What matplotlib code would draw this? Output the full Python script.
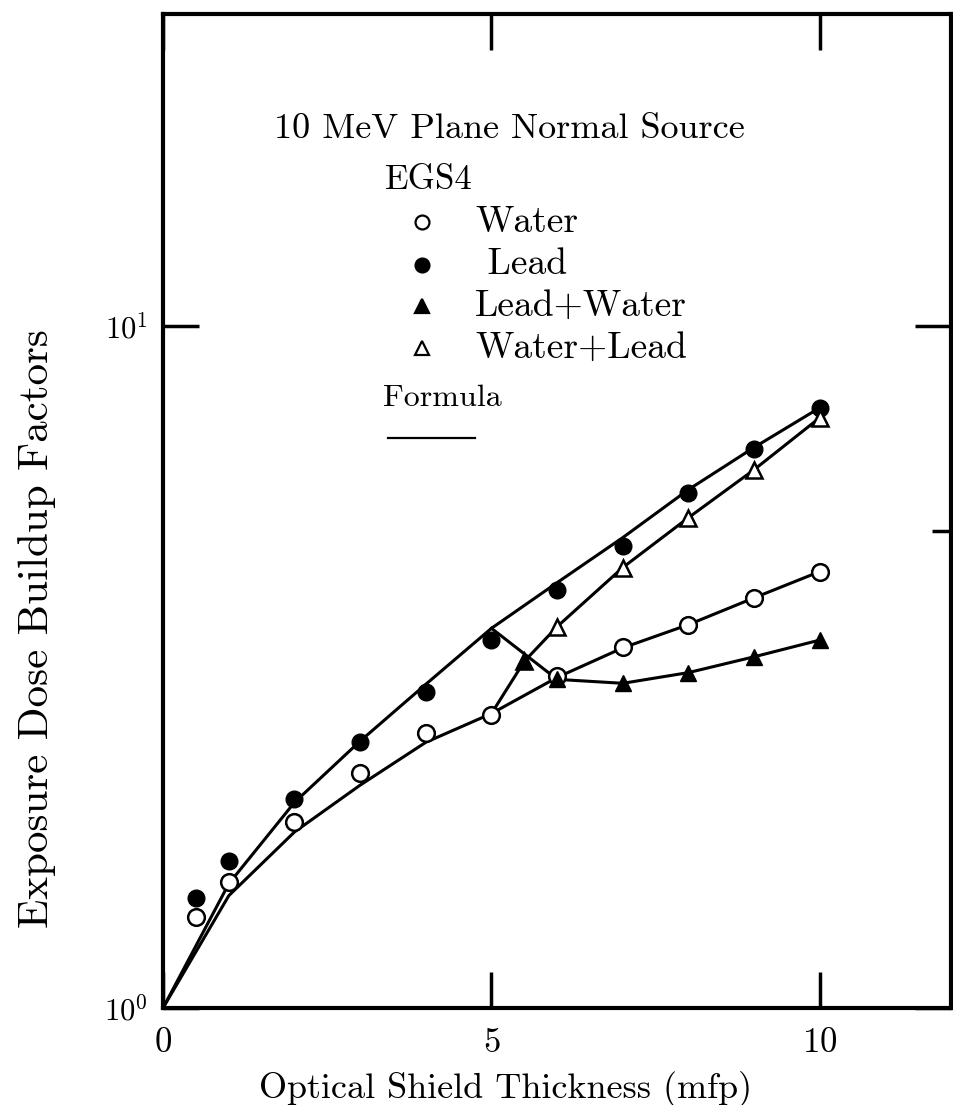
import numpy as np
import matplotlib
matplotlib.use('Agg')
import matplotlib.pyplot as plt
from matplotlib.ticker import FixedLocator, NullFormatter

plt.rcParams['font.family'] = ['cmr10', 'DejaVu Serif']
plt.rcParams['mathtext.fontset'] = 'cm'
plt.rcParams['axes.formatter.use_mathtext'] = True

# EGS4 points
x_water = [0.5, 1, 2, 3, 4, 5, 6, 7, 8, 9, 10]
y_water = [1.36, 1.53, 1.87, 2.21, 2.53, 2.69, 3.06, 3.38, 3.645, 3.99, 4.36]
x_lead = [0.5, 1, 2, 3, 4, 5, 6, 7, 8, 9, 10]
y_lead = [1.45, 1.64, 2.02, 2.45, 2.90, 3.46, 4.10, 4.76, 5.69, 6.60, 7.58]
x_pw = [5.5, 6, 7, 8, 9, 10]
y_pw = [3.22, 3.03, 2.99, 3.10, 3.27, 3.46]
x_wp = [5.5, 6, 7, 8, 9, 10]
y_wp = [3.22, 3.62, 4.42, 5.23, 6.15, 7.33]

# formula curves
fx_lead = [0, 1, 2, 3, 4, 5, 6, 7, 8, 9, 10]
fy_lead = [1.0, 1.52, 2.0, 2.46, 2.98, 3.60, 4.20, 4.89, 5.75, 6.63, 7.58]
fx_water = [0, 1, 2, 3, 4, 5, 6, 7, 8, 9, 10]
fy_water = [1.0, 1.46, 1.81, 2.12, 2.45, 2.70, 3.05, 3.37, 3.645, 3.99, 4.36]
fx_pw = [5, 6, 7, 8, 9, 10]
fy_pw = [3.60, 3.03, 2.99, 3.10, 3.27, 3.46]
fx_wp = [5, 5.5, 6, 7, 8, 9, 10]
fy_wp = [2.70, 3.22, 3.62, 4.42, 5.23, 6.15, 7.33]

fig = plt.figure(figsize=(9.54, 11.05), dpi=100)
ax = fig.add_axes([0.171, 0.088, 0.826, 0.899])

lw = 2.2
ax.plot(fx_lead, fy_lead, color='black', lw=lw)
ax.plot(fx_water, fy_water, color='black', lw=lw)
ax.plot(fx_pw, fy_pw, color='black', lw=lw)
ax.plot(fx_wp, fy_wp, color='black', lw=lw)

ms = 12
ax.plot(x_water, y_water, 'o', ms=ms, mfc='white', mec='black', mew=1.8, zorder=3)
ax.plot(x_lead, y_lead, 'o', ms=ms, mfc='black', mec='black', zorder=3)
ax.plot(x_wp, y_wp, '^', ms=ms, mfc='white', mec='black', mew=1.8, zorder=3)
ax.plot(x_pw, y_pw, '^', ms=ms, mfc='black', mec='black', zorder=4)

ax.set_yscale('log')
ax.set_xlim(0, 12)
ax.set_ylim(1, 28.6)

ax.xaxis.set_major_locator(FixedLocator([0, 5, 10]))
ax.xaxis.set_minor_locator(FixedLocator([]))
ax.yaxis.set_major_locator(FixedLocator([1, 10]))
ax.yaxis.set_minor_locator(FixedLocator([5]))
ax.yaxis.set_minor_formatter(NullFormatter())
ax.set_yticklabels([r'$10^0$', r'$10^1$'])
ax.tick_params(which='major', direction='in', length=26, width=2.5,
               top=True, right=True)
ax.tick_params(axis='x', labelsize=25, pad=14)
ax.tick_params(axis='y', labelsize=22, pad=11)
ax.tick_params(which='minor', direction='in', length=14, width=2.5,
               left=False, right=True)
for s in ax.spines.values():
    s.set_linewidth(3)

ax.set_xlabel('Optical Shield Thickness (mfp)', fontsize=26, va='center')
ax.xaxis.set_label_coords(0.435, -0.082)
ax.set_ylabel('Exposure Dose Buildup Factors', fontsize=31, va='center')
ax.yaxis.set_label_coords(-0.16, 0.382)

# legend drawn by hand
tr = ax.transAxes
ax.text(0.44, 0.884, '10 MeV Plane Normal Source', transform=tr, ha='center',
        va='center', fontsize=26)
ax.text(0.282, 0.833, 'EGS4', transform=tr, ha='left', va='center', fontsize=25)
labels = ['Water', ' Lead', 'Lead+Water', 'Water+Lead']
markers = [('o', 'white'), ('o', 'black'), ('^', 'black'), ('^', 'white')]
rows = [0.791, 0.748, 0.706, 0.664]
for lab, (m, fc), yy in zip(labels, markers, rows):
    ax.plot([0.329], [yy], m, ms=10, mfc=fc, mec='black', mew=1.6, transform=tr)
    ax.text(0.396, yy, lab, transform=tr, ha='left', va='center', fontsize=27)
ax.text(0.279, 0.614, 'Formula', transform=tr, ha='left', va='center', fontsize=23)
ax.plot([0.2855, 0.396], [0.574, 0.574], color='black', lw=1.6, transform=tr)

fig.savefig('out.png', dpi=100)
